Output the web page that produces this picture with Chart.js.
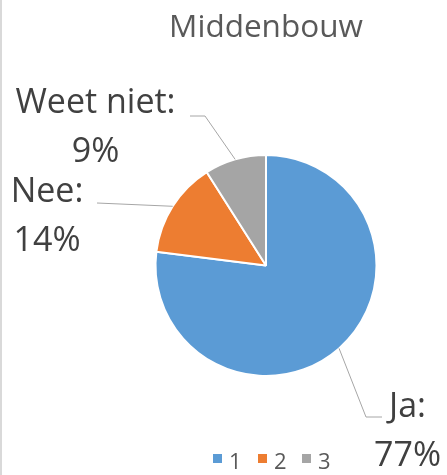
<!DOCTYPE html>
<html>
<head>
<meta charset="utf-8">
<script src="https://cdn.jsdelivr.net/npm/chart.js@4/dist/chart.umd.min.js"></script>
<style>
html,body{margin:0;padding:0;background:#fff;}
canvas{display:block;}
</style>
</head>
<body>
<canvas id="c" width="447" height="475"></canvas>
<script>
// ---- data ----
const chartTitle = 'Middenbouw';
const categories = ['1', '2', '3'];
const answerNames = ['Ja', 'Nee', 'Weet niet'];
const values = [77, 14, 9];
const colors = ['#5B9BD5', '#ED7D31', '#A5A5A5'];

// ---- label layout (text anchors + leader elbows) ----
const labelLayout = [
  {cx: 407.5, base: 417, elbow: [366, 417], end: [382, 417]},
  {cx: 47, base: 202, elbow: null, end: [97, 203]},
  {cx: 95.5, base: 113, elbow: [205, 116], end: [190, 116]}
];

const FONT = '"Open Sans", sans-serif';

const decor = {
  id: 'decor',
  afterDraw(chart) {
    const ctx = chart.ctx;
    const meta = chart.getDatasetMeta(0);
    const total = values.reduce((a, b) => a + b, 0);
    ctx.save();
    // left frame line
    ctx.fillStyle = '#d9d9d9';
    ctx.fillRect(0, 0, 2, 475);
    // title
    ctx.fillStyle = '#595959';
    ctx.font = '31.5px ' + FONT;
    ctx.textAlign = 'center';
    ctx.textBaseline = 'alphabetic';
    ctx.fillText(chartTitle, 266, 37);
    // data labels with leader lines
    meta.data.forEach((arc, i) => {
      const p = arc.getProps(['x', 'y', 'startAngle', 'endAngle', 'outerRadius'], true);
      const mid = (p.startAngle + p.endAngle) / 2;
      const sx = p.x + Math.cos(mid) * p.outerRadius;
      const sy = p.y + Math.sin(mid) * p.outerRadius;
      const L = labelLayout[i];
      ctx.strokeStyle = '#a6a6a6';
      ctx.lineWidth = 1;
      ctx.beginPath();
      ctx.moveTo(sx, sy);
      if (L.elbow) ctx.lineTo(L.elbow[0], L.elbow[1]);
      ctx.lineTo(L.end[0], L.end[1]);
      ctx.stroke();
      ctx.fillStyle = '#404040';
      ctx.font = '34px ' + FONT;
      ctx.textAlign = 'center';
      ctx.fillText(answerNames[i] + ':', L.cx, L.base);
      ctx.fillText(Math.round(values[i] / total * 100) + '%', L.cx, L.base + 48.5);
    });
    // legend
    const legX = [213, 258, 302];
    ctx.font = '22px ' + FONT;
    ctx.textAlign = 'left';
    categories.forEach((c, i) => {
      ctx.fillStyle = colors[i];
      ctx.fillRect(legX[i], 454, 9, 9);
      ctx.fillStyle = '#595959';
      ctx.fillText(c, legX[i] + 16, 468.5);
    });
    ctx.restore();
  }
};

new Chart(document.getElementById('c'), {
  type: 'pie',
  data: {
    labels: categories,
    datasets: [{
      data: values,
      backgroundColor: colors,
      borderColor: '#ffffff',
      borderWidth: 2,
      hoverOffset: 0
    }]
  },
  options: {
    responsive: false,
    animation: false,
    layout: {padding: {left: 154, right: 69, top: 154, bottom: 98}},
    plugins: {
      legend: {display: false},
      title: {display: false},
      tooltip: {enabled: false}
    }
  },
  plugins: [decor]
});
</script>
</body>
</html>
